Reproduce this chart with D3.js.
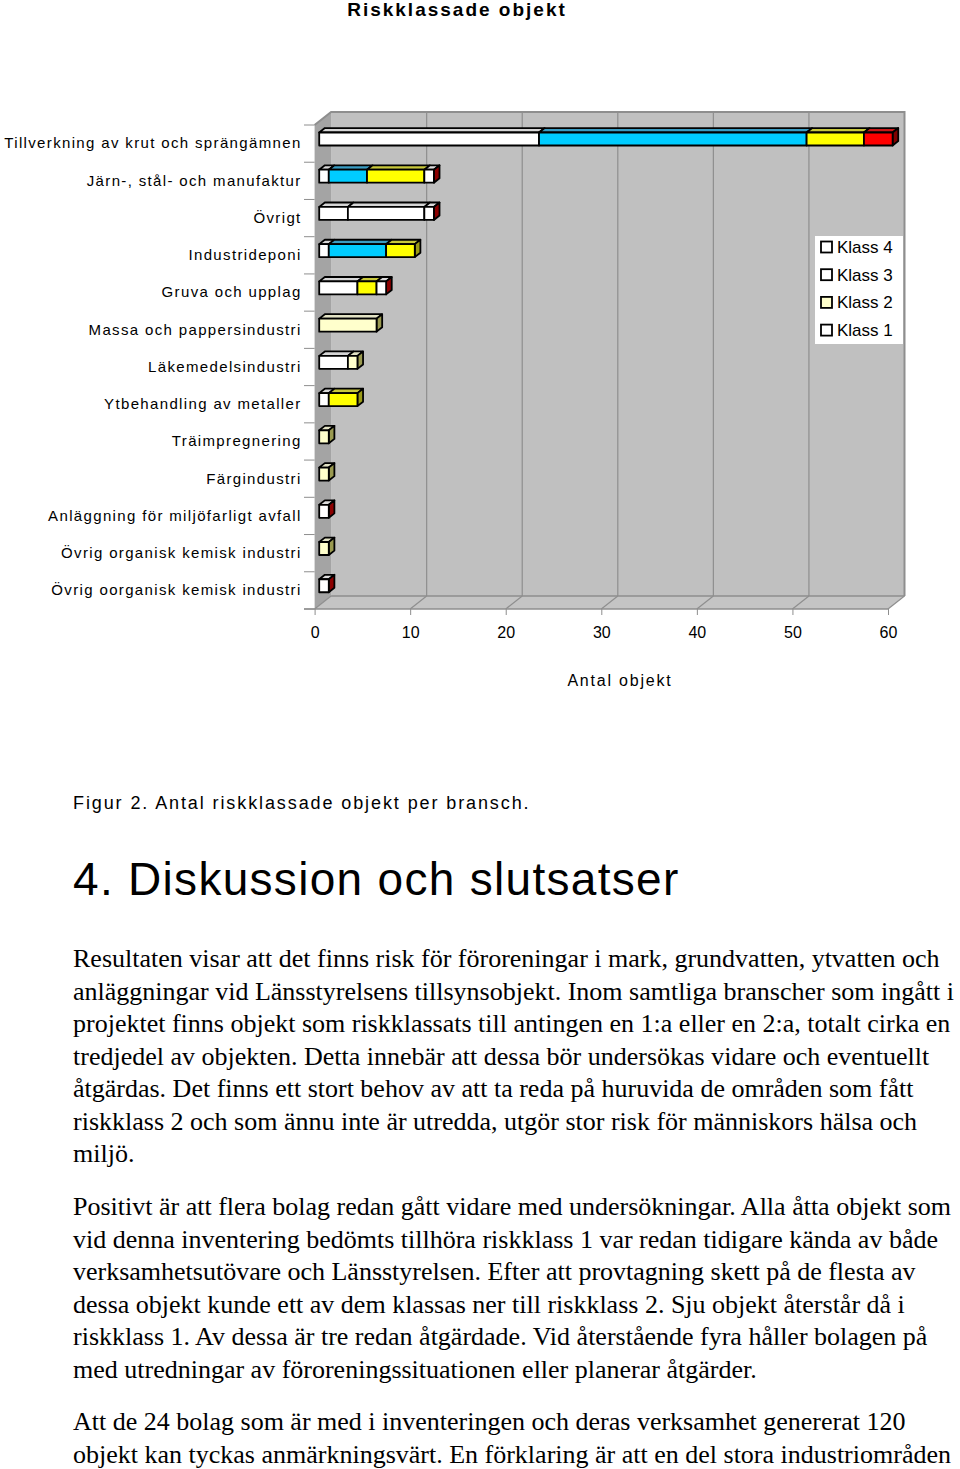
<!DOCTYPE html>
<html>
<head>
<meta charset="utf-8">
<script src="https://cdn.jsdelivr.net/npm/d3@7"></script>
<style>
  body { margin: 0; background: #fff; }
  svg { display: block; }
  .sans { font-family: "Liberation Sans", Arial, sans-serif; }
  .serif { font-family: "Liberation Serif", "Times New Roman", serif; }
</style>
</head>
<body>
<div id="chart"></div>
<script>
// Data (objects per branch and risk class)
const categories = [
  'Tillverkning av krut och sprängämnen',
  'Järn-, stål- och manufaktur',
  'Övrigt',
  'Industrideponi',
  'Gruva och upplag',
  'Massa och pappersindustri',
  'Läkemedelsindustri',
  'Ytbehandling av metaller',
  'Träimpregnering',
  'Färgindustri',
  'Anläggning för miljöfarligt avfall',
  'Övrig organisk kemisk industri',
  'Övrig oorganisk kemisk industri'
];
const klass4 = [23, 1, 3, 1, 4, 0, 3, 1, 0, 0, 0, 0, 0];
const klass3 = [28, 4, 8, 6, 0, 0, 0, 0, 0, 0, 0, 0, 0];
const klass2 = [6, 6, 0, 3, 2, 6, 1, 3, 1, 1, 0, 1, 0];
const klass1 = [3, 1, 1, 0, 1, 0, 0, 0, 0, 0, 1, 0, 1];
const seriesNames = ['Klass 4', 'Klass 3', 'Klass 2', 'Klass 1'];
const xTicks = [0, 10, 20, 30, 40, 50, 60];

const title = 'Riskklassade objekt';
const xTitle = 'Antal objekt';
const caption = 'Figur 2. Antal riskklassade objekt per bransch.';
const heading = '4. Diskussion och slutsatser';
const paragraphs = [
  ['Resultaten visar att det finns risk för föroreningar i mark, grundvatten, ytvatten och',
   'anläggningar vid Länsstyrelsens tillsynsobjekt. Inom samtliga branscher som ingått i',
   'projektet finns objekt som riskklassats till antingen en 1:a eller en 2:a, totalt cirka en',
   'tredjedel av objekten. Detta innebär att dessa bör undersökas vidare och eventuellt',
   'åtgärdas. Det finns ett stort behov av att ta reda på huruvida de områden som fått',
   'riskklass 2 och som ännu inte är utredda, utgör stor risk för människors hälsa och',
   'miljö.'],
  ['Positivt är att flera bolag redan gått vidare med undersökningar. Alla åtta objekt som',
   'vid denna inventering bedömts tillhöra riskklass 1 var redan tidigare kända av både',
   'verksamhetsutövare och Länsstyrelsen. Efter att provtagning skett på de flesta av',
   'dessa objekt kunde ett av dem klassas ner till riskklass 2. Sju objekt återstår då i',
   'riskklass 1. Av dessa är tre redan åtgärdade. Vid återstående fyra håller bolagen på',
   'med utredningar av föroreningssituationen eller planerar åtgärder.'],
  ['Att de 24 bolag som är med i inventeringen och deras verksamhet genererat 120',
   'objekt kan tyckas anmärkningsvärt. En förklaring är att en del stora industriområden']
];

// colours: normal faces, and the washed-out faces some points have in the print
const colors = {
  'Klass 4': { front: '#ffffff', top: '#d6d6d6', side: '#9a9a9a' },
  'Klass 3': { front: '#00ccff', top: '#3a9cc2', side: '#00809f' },
  'Klass 2': { front: '#ffff00', top: '#c8c83c', side: '#9a9a18' },
  'Klass 1': { front: '#ff0000', top: '#c81818', side: '#800000' }
};
const paleColors = {
  'Klass 4': { front: '#ffffff', top: '#d6d6d6', side: '#9a9a9a' },
  'Klass 3': { front: '#ffffff', top: '#d6d6d6', side: '#00809f' },
  'Klass 2': { front: '#ffffcc', top: '#e2e2c4', side: '#9a9a50' },
  'Klass 1': { front: '#ffffff', top: '#dcdcdc', side: '#8c0000' }
};
const paleIdx = { 'Klass 3': [2], 'Klass 2': [5, 6, 8, 9, 11], 'Klass 1': [1, 2, 4, 10, 12] };

const W = 960, H = 1469;
const svg = d3.select('#chart').append('svg').attr('width', W).attr('height', H);

const baseY = 609, topY = 125;
const depthX = 16.5, depthY = 13;
const barOff = 0.28, barDepth = 0.34, barH = 13;

const x = d3.scaleLinear().domain([0, 60]).range([314.6, 888]);
const y = d3.scaleBand().domain(categories).range([topY, baseY]);

const rows = categories.map((c, i) => ({
  cat: c, 'Klass 4': klass4[i], 'Klass 3': klass3[i], 'Klass 2': klass2[i], 'Klass 1': klass1[i]
}));
const stacked = d3.stack().keys(seriesNames)(rows);

// title
svg.append('text').attr('class', 'sans')
  .attr('x', 457).attr('y', 16).attr('text-anchor', 'middle')
  .attr('font-size', 19).attr('font-weight', 'bold').attr('letter-spacing', 2)
  .text(title);

// walls and floor
const g = svg.append('g');
const x0 = x(0), x60 = x(60);
g.append('rect')
  .attr('x', x0 + depthX).attr('y', topY - depthY)
  .attr('width', x60 - x0).attr('height', baseY - topY)
  .attr('fill', '#c0c0c0');
g.append('polygon')
  .attr('points', [[x0, topY], [x0 + depthX, topY - depthY], [x0 + depthX, baseY - depthY], [x0, baseY]].join(' '))
  .attr('fill', '#a4a4a4');
g.append('polygon')
  .attr('points', [[x0, baseY], [x60, baseY], [x60 + depthX, baseY - depthY], [x0 + depthX, baseY - depthY]].join(' '))
  .attr('fill', '#c4c4c4');

// gridlines on back wall
g.selectAll('.grid').data(xTicks.slice(1, -1)).join('line')
  .attr('x1', d => x(d) + depthX).attr('x2', d => x(d) + depthX)
  .attr('y1', topY - depthY).attr('y2', baseY - depthY)
  .attr('stroke', '#8e8e8e').attr('stroke-width', 1.2);
// floor lines
g.selectAll('.floor').data(xTicks).join('line')
  .attr('x1', d => x(d)).attr('x2', d => x(d) + depthX)
  .attr('y1', baseY).attr('y2', baseY - depthY)
  .attr('stroke', '#8e8e8e').attr('stroke-width', 1.2);
// wall borders
g.append('polyline')
  .attr('points', [[x0, topY], [x0 + depthX, topY - depthY], [x60 + depthX, topY - depthY], [x60 + depthX, baseY - depthY]].join(' '))
  .attr('fill', 'none').attr('stroke', '#8e8e8e').attr('stroke-width', 2);
g.append('line')
  .attr('x1', x0 + depthX).attr('x2', x60 + depthX)
  .attr('y1', baseY - depthY).attr('y2', baseY - depthY)
  .attr('stroke', '#8e8e8e').attr('stroke-width', 1.5);

// axes
const xAxis = svg.append('g').attr('class', 'sans')
  .attr('transform', `translate(0,${baseY})`)
  .call(d3.axisBottom(x).tickValues(xTicks).tickSize(6).tickPadding(12));
xAxis.select('.domain').remove();
xAxis.selectAll('line').attr('stroke', '#8e8e8e');
xAxis.selectAll('text').attr('font-size', 16).attr('fill', '#000');
svg.append('line')
  .attr('x1', 304).attr('x2', x60).attr('y1', baseY).attr('y2', baseY)
  .attr('stroke', '#8e8e8e').attr('stroke-width', 1.5);

const yAxis = svg.append('g').attr('class', 'sans')
  .attr('transform', `translate(${x0},0)`)
  .call(d3.axisLeft(y).tickSize(0).tickPadding(13));
yAxis.select('.domain').remove();
yAxis.selectAll('text').attr('font-size', 15).attr('letter-spacing', 1.35).attr('fill', '#000');
svg.selectAll('.ytick').data(categories.map(c => y(c)).concat([baseY])).join('line')
  .attr('x1', 304).attr('x2', x0).attr('y1', d => d).attr('y2', d => d)
  .attr('stroke', '#8e8e8e');

svg.append('text').attr('class', 'sans')
  .attr('x', 620).attr('y', 686).attr('text-anchor', 'middle')
  .attr('font-size', 16).attr('letter-spacing', 1.8)
  .text(xTitle);

// bars
const bx = barDepth * depthX, by = barDepth * depthY;
function faceColor(key, i) {
  return (paleIdx[key] || []).includes(i) ? paleColors[key] : colors[key];
}
const barsG = svg.append('g')
  .attr('stroke', '#000').attr('stroke-width', 1.8).attr('stroke-linejoin', 'round');

categories.forEach((cat, i) => {
  const yt = y(cat) + y.bandwidth() / 2 - barOff * depthY - 1 - barH / 2;
  const yb = yt + barH;
  const segs = stacked
    .map(s => ({ key: s.key, v0: s[i][0], v1: s[i][1] }))
    .filter(s => s.v1 > s.v0);
  const px = v => x(v) + barOff * depthX;
  segs.forEach(s => {
    const a = px(s.v0), b = px(s.v1);
    barsG.append('polygon')
      .attr('points', [[a, yt], [b, yt], [b + bx, yt - by], [a + bx, yt - by]].join(' '))
      .attr('fill', faceColor(s.key, i).top);
  });
  const last = segs[segs.length - 1];
  const e = px(last.v1);
  barsG.append('polygon')
    .attr('points', [[e, yt], [e + bx, yt - by], [e + bx, yb - by], [e, yb]].join(' '))
    .attr('fill', faceColor(last.key, i).side);
  segs.forEach(s => {
    barsG.append('rect')
      .attr('x', px(s.v0)).attr('y', yt)
      .attr('width', px(s.v1) - px(s.v0)).attr('height', barH)
      .attr('fill', faceColor(s.key, i).front);
  });
});

// legend
const leg = svg.append('g').attr('transform', 'translate(815,236)');
leg.append('rect').attr('width', 88).attr('height', 108).attr('fill', '#fff');
seriesNames.forEach((k, j) => {
  const row = leg.append('g').attr('transform', `translate(6,${11 + j * 27.7})`);
  row.append('rect').attr('x', 0).attr('y', -5.5).attr('width', 11).attr('height', 11)
    .attr('fill', paleColors[k].front).attr('stroke', '#000').attr('stroke-width', 1.8);
  row.append('text').attr('class', 'sans').attr('x', 16).attr('y', 6)
    .attr('font-size', 17).text(k);
});

// caption and following text
svg.append('text').attr('class', 'sans')
  .attr('x', 73).attr('y', 809).attr('font-size', 18).attr('letter-spacing', 1.9)
  .text(caption);
svg.append('text').attr('class', 'sans')
  .attr('x', 73).attr('y', 895).attr('font-size', 46).attr('letter-spacing', 1.3)
  .text(heading);

const paraStart = [967, 1215, 1430];
const lineH = 32.5;
paragraphs.forEach((lines, p) => {
  svg.append('g').attr('class', 'serif').attr('font-size', 26)
    .selectAll('text').data(lines).join('text')
    .attr('x', 73).attr('y', (d, k) => paraStart[p] + k * lineH)
    .text(d => d);
});
</script>
</body>
</html>
